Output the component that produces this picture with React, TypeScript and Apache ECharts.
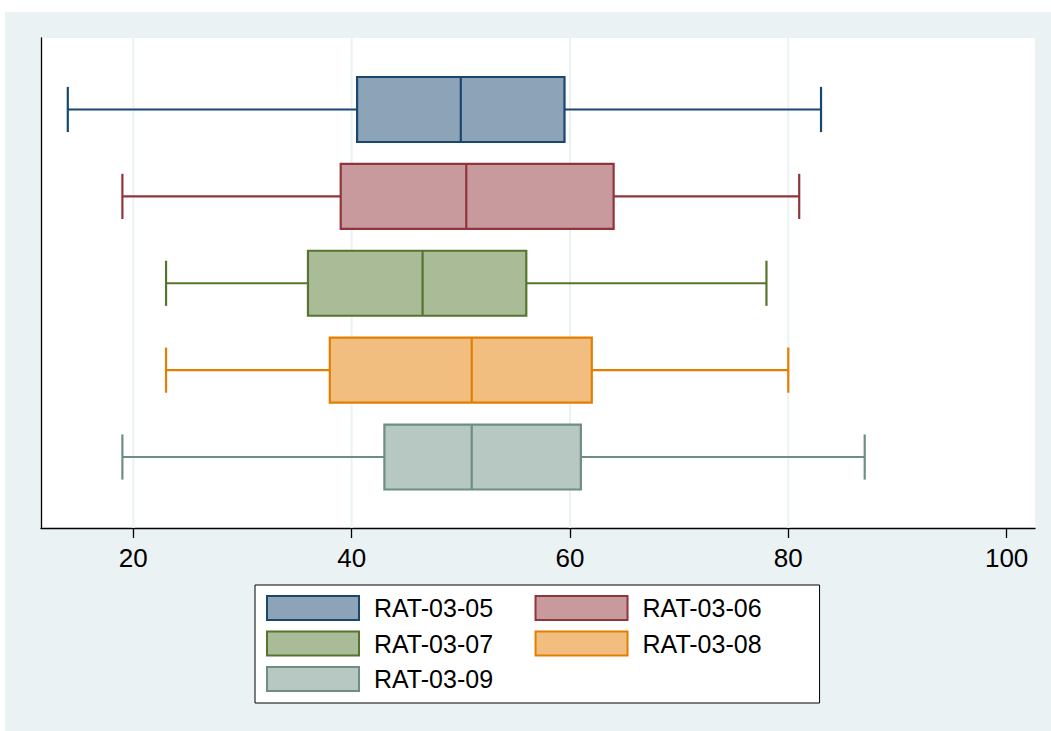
import React, { useEffect, useRef } from "react";
import * as echarts from "echarts";

const groups = ["RAT-03-05", "RAT-03-06", "RAT-03-07", "RAT-03-08", "RAT-03-09"];
const lowerWhisker = [14, 19, 23, 23, 19];
const q1Values = [40.5, 39, 36, 38, 43];
const medianValues = [50, 50.5, 46.5, 51, 51];
const q3Values = [59.5, 64, 56, 62, 61];
const upperWhisker = [83, 81, 78, 80, 87];
const tickValues = [20, 40, 60, 80, 100];
const gridValues = [20, 40, 60, 80];

const strokeColors = ["#1a476f", "#90353b", "#55752f", "#e37e00", "#6e8e84"];
const fillColors = ["#8da3b7", "#c89a9d", "#aabb97", "#f1be7f", "#b7c7c1"];

const FONT = "'Liberation Sans', Arial, Helvetica, sans-serif";
const Y_MIN = 0.177;
const Y_MAX = 5.817;

export default function App() {
  const ref = useRef<HTMLDivElement>(null);

  useEffect(() => {
    if (!ref.current) return;
    const chart = echarts.init(ref.current, undefined, { renderer: "svg" });

    const boxSeries = groups.map((name, i) => ({
      name,
      type: "custom",
      z: 3,
      itemStyle: { color: fillColors[i], borderColor: strokeColors[i], borderWidth: 2 },
      data: [[i + 1, lowerWhisker[i], q1Values[i], medianValues[i], q3Values[i], upperWhisker[i]]],
      encode: { y: 0, x: [1, 2, 3, 4, 5] },
      renderItem: (params: any, api: any) => {
        const yv = api.value(0);
        const pLo = api.coord([api.value(1), yv]);
        const pQ1 = api.coord([api.value(2), yv]);
        const pMed = api.coord([api.value(3), yv]);
        const pQ3 = api.coord([api.value(4), yv]);
        const pHi = api.coord([api.value(5), yv]);
        const unit = api.size([0, 1])[1];
        const boxH = unit * 0.748;
        const capH = unit * 0.52;
        const cy = pMed[1];
        const stroke = strokeColors[i];
        const lineStyle = { stroke, lineWidth: 2.2, fill: null };
        return {
          type: "group",
          children: [
            { type: "line", shape: { x1: pLo[0], y1: cy, x2: pQ1[0], y2: cy }, style: lineStyle },
            { type: "line", shape: { x1: pQ3[0], y1: cy, x2: pHi[0], y2: cy }, style: lineStyle },
            { type: "line", shape: { x1: pLo[0], y1: cy - capH / 2, x2: pLo[0], y2: cy + capH / 2 }, style: lineStyle },
            { type: "line", shape: { x1: pHi[0], y1: cy - capH / 2, x2: pHi[0], y2: cy + capH / 2 }, style: lineStyle },
            {
              type: "rect",
              shape: { x: pQ1[0], y: cy - boxH / 2, width: pQ3[0] - pQ1[0], height: boxH },
              style: { fill: fillColors[i], stroke, lineWidth: 2.2 },
            },
            { type: "line", shape: { x1: pMed[0], y1: cy - boxH / 2, x2: pMed[0], y2: cy + boxH / 2 }, style: lineStyle },
          ],
        };
      },
    }));

    const gridSeries = {
      name: "gridlines",
      type: "custom",
      z: 1,
      silent: true,
      data: gridValues.map((v) => [v, Y_MIN]),
      encode: { x: 0, y: 1 },
      renderItem: (params: any, api: any) => {
        const v = api.value(0);
        const a = api.coord([v, Y_MIN]);
        const b = api.coord([v, Y_MAX]);
        return {
          type: "line",
          shape: { x1: a[0], y1: a[1], x2: b[0], y2: b[1] },
          style: { stroke: "#eaf2f3", lineWidth: 2 },
        };
      },
    };

    const option: any = {
      animation: false,
      graphic: [
        {
          type: "rect",
          z: -10,
          silent: true,
          shape: { x: 5, y: 12, width: 1046, height: 719 },
          style: { fill: "#eaf2f3" },
        },
      ],
      grid: {
        left: 41,
        top: 38,
        right: 16,
        bottom: 203,
        show: true,
        backgroundColor: "#ffffff",
        borderWidth: 0,
        containLabel: false,
      },
      xAxis: {
        type: "value",
        min: 11.545,
        max: 102.6,
        axisLine: { show: true, lineStyle: { color: "#000", width: 1.3 } },
        axisTick: {
          show: true,
          length: 10,
          customValues: tickValues,
          lineStyle: { color: "#000", width: 1.3 },
        },
        axisLabel: {
          show: true,
          customValues: tickValues,
          fontSize: 26,
          fontFamily: FONT,
          color: "#000",
          margin: 17,
        },
        splitLine: { show: false },
      },
      yAxis: {
        type: "value",
        inverse: true,
        min: Y_MIN,
        max: Y_MAX,
        axisLine: { show: true, lineStyle: { color: "#000", width: 1.3 } },
        axisTick: { show: false },
        axisLabel: { show: false },
        splitLine: { show: false },
      },
      legend: {
        show: true,
        left: 255,
        top: 585,
        width: 560,
        orient: "horizontal",
        icon: "rect",
        itemWidth: 92,
        itemHeight: 24,
        itemGap: 9.5,
        padding: [10, 26, 11, 11],
        backgroundColor: "#ffffff",
        borderColor: "#000",
        borderWidth: 1,
        borderRadius: 0,
        selectedMode: false,
        textStyle: {
          fontSize: 25,
          lineHeight: 24,
          fontFamily: FONT,
          color: "#000",
          padding: [0, 32, 0, 10],
        },
        data: groups.map((name, i) => ({
          name,
          icon: "rect",
          itemStyle: { color: fillColors[i], borderColor: strokeColors[i], borderWidth: 2 },
        })),
      },
      series: [gridSeries, ...boxSeries],
    };

    chart.setOption(option);
    return () => chart.dispose();
  }, []);

  return (
    <div
      ref={ref}
      style={{ position: "absolute", left: 0, top: 0, width: 1051, height: 731, background: "#fff" }}
    />
  );
}
